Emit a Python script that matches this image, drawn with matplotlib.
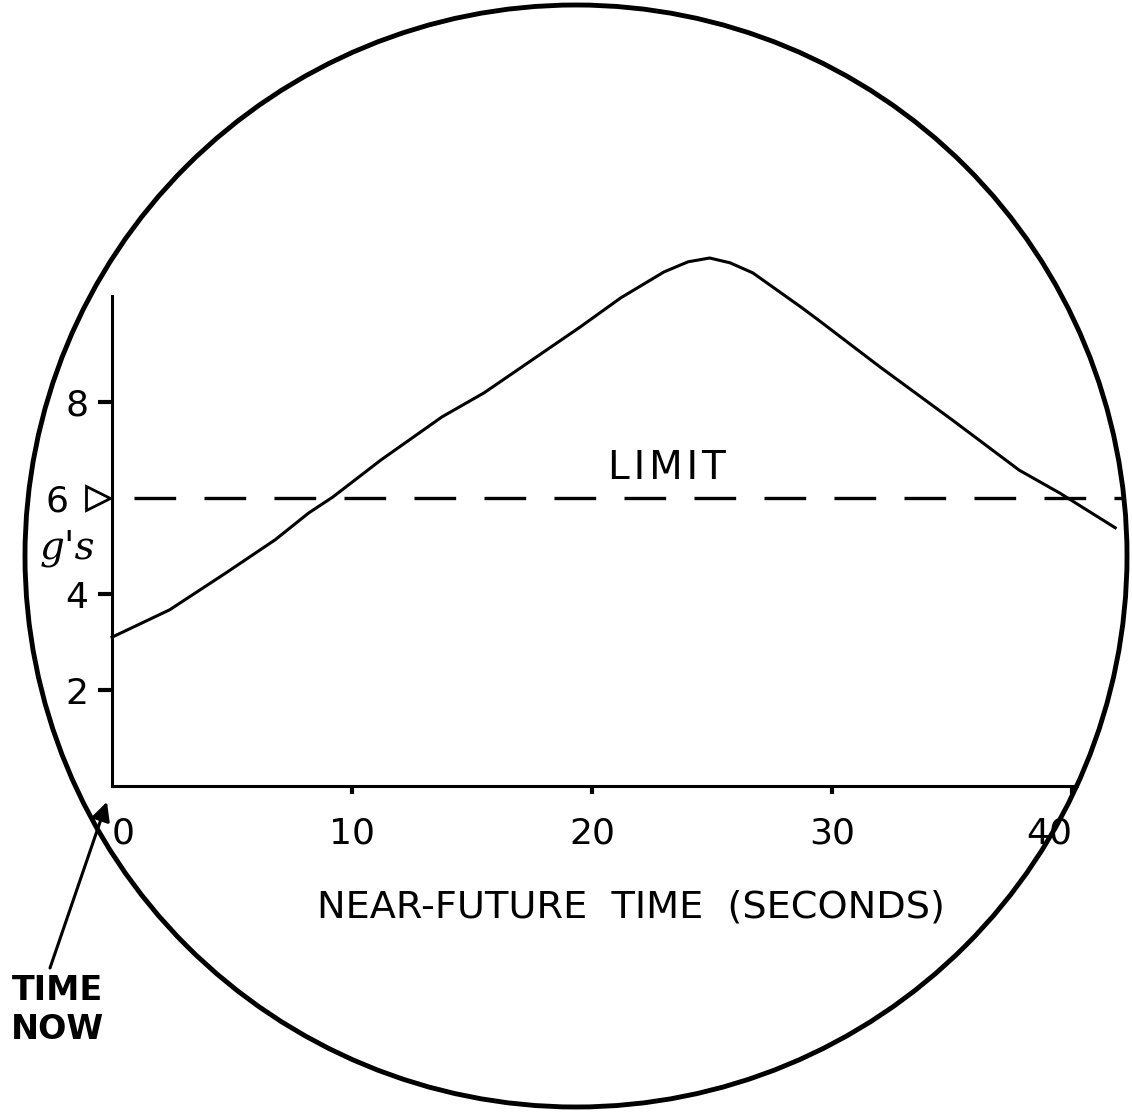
import matplotlib
matplotlib.use('Agg')
import matplotlib.pyplot as plt
from matplotlib.patches import Ellipse
from matplotlib.transforms import ScaledTranslation

# predicted g load over the next seconds
time_s = [0, 2.4, 4.75, 6.8, 8.2, 9.2, 11.2, 13.75, 15.5, 19.5, 21.2, 23.0, 24.0, 24.9,
          25.75, 26.7, 28.7, 29.4, 32, 35, 37.8, 39.5, 41.8]
g_load = [3.1, 3.67, 4.44, 5.13, 5.69, 6.02, 6.79, 7.69, 8.19, 9.56, 10.17, 10.71, 10.92, 11.0,
          10.9, 10.69, 9.98, 9.72, 8.73, 7.63, 6.58, 6.1, 5.38]

limit_g = 6
limit_x = [0.9, 43]

x_ticks = [0, 10, 20, 30, 40]
y_ticks = [2, 4, 6, 8]

W, H = 1132, 1113

plt.rcParams['font.family'] = 'DejaVu Sans'
fig = plt.figure(figsize=(W / 100, H / 100), dpi=100)
fig.patch.set_facecolor('white')

ax = fig.add_axes([112 / W, (H - 786) / H, 1020 / W, 489.6 / H])
ax.set_xlim(0, 42.5)
ax.set_ylim(0, 10.2)
ax.patch.set_alpha(0)

# the round display face
face = Ellipse((576 / W, 1 - 556 / H), 2 * 551 / W, 2 * 551 / H, transform=fig.transFigure,
               fill=False, edgecolor='black', linewidth=3.5, zorder=5)
fig.add_artist(face)

curve, = ax.plot(time_s, g_load, color='black', linewidth=2.2, solid_joinstyle='round')
curve.set_clip_path(face)
curve.set_clip_box(None)

lim, = ax.plot(limit_x, [limit_g, limit_g], color='black', linewidth=2.4, dashes=(12.5, 8.5))
lim.set_clip_path(face)
lim.set_clip_box(None)
ax.text(23.1, 6.62, 'L\u200aI\u200aM\u200aI\u200aT', fontsize=28, ha='center', va='center')

ax.plot([-0.6], [limit_g], marker='>', markersize=17, markerfacecolor='white',
        markeredgecolor='black', markeredgewidth=2, clip_on=False)

for s in ['top', 'right']:
    ax.spines[s].set_visible(False)
ax.spines['left'].set_linewidth(2.2)
ax.spines['bottom'].set_linewidth(2.2)
ax.spines['bottom'].set_bounds(0, 40.2)

ax.set_xticks(x_ticks)
ax.set_xticklabels([str(t) for t in x_ticks], fontsize=26)
ax.tick_params(axis='x', length=6, width=3, pad=16)
xl = ax.get_xticklabels()
xl[0].set_ha('left')
xl[-1].set_ha('right')
ax.xaxis.get_major_ticks()[0].tick1line.set_visible(False)

ax.set_yticks(y_ticks)
ax.set_yticklabels([str(t) for t in y_ticks], fontsize=26)
ax.tick_params(axis='y', length=10, width=3, pad=7)
for t, lab in zip(ax.yaxis.get_major_ticks(), y_ticks):
    if lab == limit_g:
        t.tick1line.set_visible(False)
        t.label1.set_transform(t.label1.get_transform() + ScaledTranslation(-14 / 72, 0, fig.dpi_scale_trans))

ax.set_xlabel('NEAR-FUTURE  TIME  (SECONDS)', fontsize=27.5)
ax.xaxis.set_label_coords(0.509, -0.212)
ax.set_ylabel("g's", fontsize=28, rotation=0, family='DejaVu Serif', fontstyle='italic',
              ha='center', va='center')
ax.yaxis.set_label_coords(-0.044, 0.486)

ax.annotate('', xy=(-0.21, -0.33), xycoords='data',
            xytext=(50 / W, 1 - 968 / H), textcoords='figure fraction',
            arrowprops=dict(arrowstyle='-|>', lw=2.2, color='black', mutation_scale=28,
                            shrinkA=0, shrinkB=0),
            annotation_clip=False)
fig.text(57 / W, 1 - 1010 / H, 'TIME\nNOW', fontsize=24, fontweight='bold',
         ha='center', va='center', linespacing=1.25)

fig.savefig('out.png', dpi=100)
